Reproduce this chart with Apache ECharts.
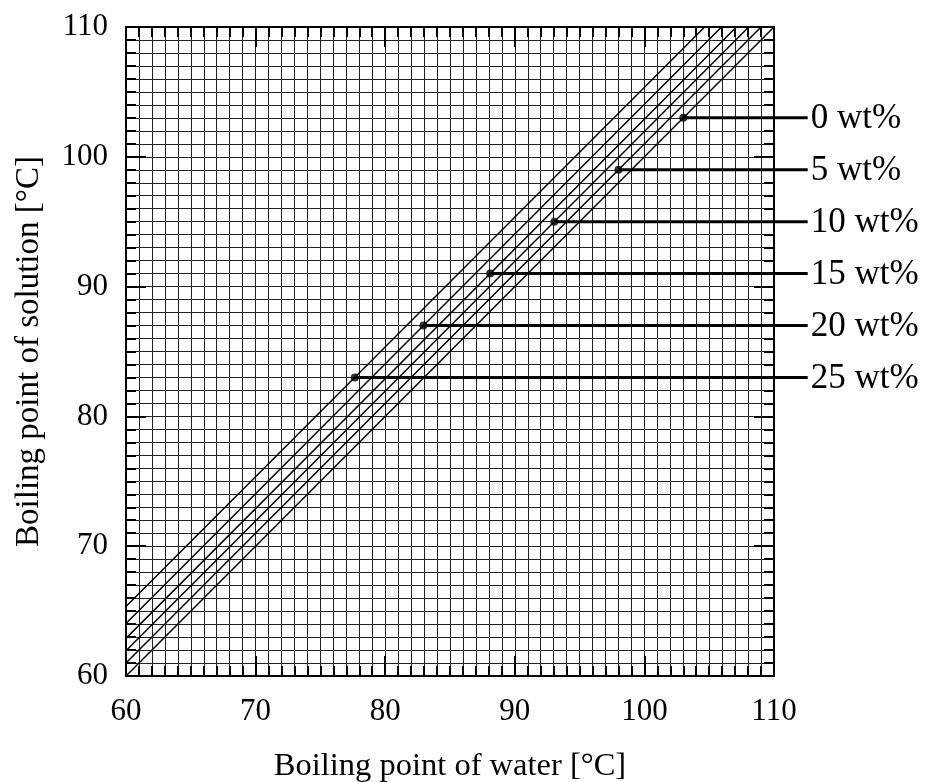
<!DOCTYPE html>
<html>
<head>
<meta charset="utf-8">
<script src="https://cdn.jsdelivr.net/npm/echarts@6/dist/echarts.min.js"></script>
<style>
html,body{margin:0;padding:0;background:#fff;}
#chart{width:926px;height:782px;}
</style>
</head>
<body>
<div id="chart"></div>
<script>
// Concentration labels and their boiling-point elevation (solution - water)
const concentrations = ['0 wt%', '5 wt%', '10 wt%', '15 wt%', '20 wt%', '25 wt%'];
const elevations = [0, 1.0, 1.95, 2.9, 4.05, 5.35];
// Marker points (boiling point of solution) where the leaders start
const markerSolution = [103, 99, 95, 91, 87, 83];
const markerWater = [103, 98, 93.05, 88.1, 82.95, 77.65];
// Axis range
const axisMin = 60, axisMax = 110, axisStep = 10;
const leaderEndX = 112.6;

const FONT = 'Liberation Serif';

const series = [];
concentrations.forEach((name, i) => {
  const d = elevations[i];
  series.push({
    type: 'line', name: name + ' line', silent: true, symbol: 'none',
    data: [[axisMin, axisMin + d], [axisMax - d, axisMax]],
    lineStyle: { color: '#000', width: 1.5 }, z: 3
  });
});
series.push({
  type: 'custom', silent: true, clip: false, z: 4,
  data: markerWater.map((x, i) => [x, markerSolution[i]]),
  renderItem: function (params, api) {
    const y = api.value(1);
    const p0 = api.coord([api.value(0), y]);
    const p1 = api.coord([leaderEndX, y]);
    return {
      type: 'group',
      children: [
        { type: 'line', shape: { x1: p0[0], y1: p0[1], x2: p1[0], y2: p1[1] },
          style: { stroke: '#000', lineWidth: 3 } },
        { type: 'text', x: p1[0] + 3, y: p1[1] + 1,
          style: { text: concentrations[params.dataIndex], fill: '#000',
                   font: '35px "' + FONT + '"', verticalAlign: 'middle', align: 'left' } }
      ]
    };
  }
});
series.push({
  type: 'scatter', silent: true, symbolSize: 8,
  data: markerWater.map((x, i) => [x, markerSolution[i]]),
  itemStyle: { color: '#000' }, z: 5
});

function makeAxis(pos, showLabels, isX) {
  return {
    type: 'value', position: pos, min: axisMin, max: axisMax, interval: axisStep,
    name: showLabels ? (isX ? 'Boiling point of water [°C]' : 'Boiling point of solution [°C]') : '',
    nameLocation: 'middle',
    nameGap: isX ? 74 : 80,
    nameTextStyle: { fontFamily: FONT, fontSize: isX ? 32.5 : 33, color: '#000' },
    axisLine: { show: true, onZero: false, lineStyle: { color: '#000', width: 2 } },
    axisTick: { show: true, inside: true, length: 20, lineStyle: { color: '#000', width: 2 } },
    minorTick: { show: true, splitNumber: 10, length: 10, lineStyle: { color: '#000', width: 2 } },
    axisLabel: { show: showLabels, fontFamily: FONT, fontSize: 31, color: '#000', margin: isX ? 20 : 18 },
    splitLine: { show: showLabels, lineStyle: { color: '#222', width: 1 } },
    minorSplitLine: { show: showLabels, lineStyle: { color: '#222', width: 1 } }
  };
}

const chart = echarts.init(document.getElementById('chart'), null, { renderer: 'canvas' });
chart.setOption({
  animation: false,
  backgroundColor: '#fff',
  grid: { left: 126, right: 152, top: 27, bottom: 106, containLabel: false, outerBoundsMode: 'none' },
  xAxis: [makeAxis('bottom', true, true), makeAxis('top', false, true)],
  yAxis: [makeAxis('left', true, false), makeAxis('right', false, false)],
  series: series
});
</script>
</body>
</html>
